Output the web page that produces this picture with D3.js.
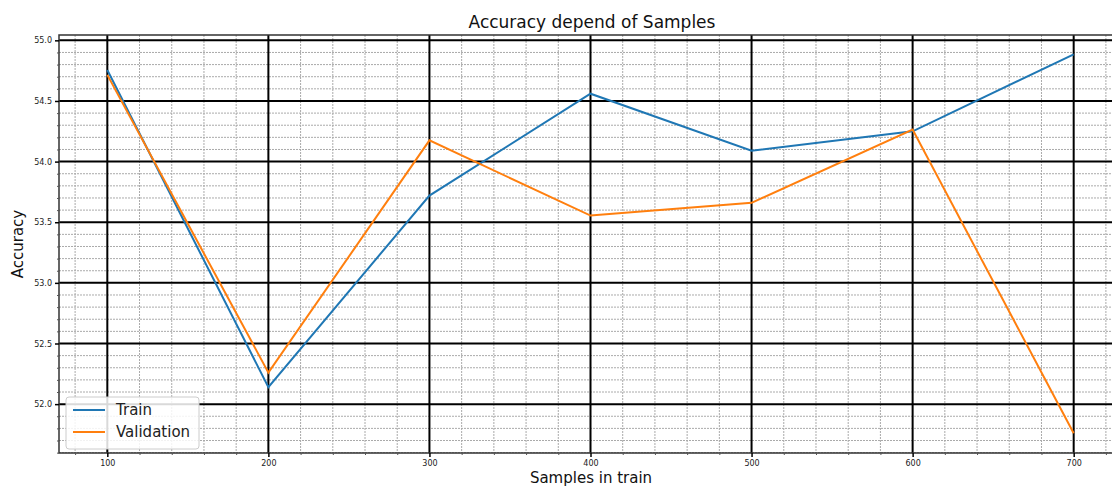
<!DOCTYPE html>
<html><head><meta charset="utf-8">
<script src="https://cdn.jsdelivr.net/npm/d3@7"></script>
<style>body{margin:0;background:#fff;} text{font-family:"DejaVu Sans",sans-serif;}</style>
</head><body><svg id="c" width="1112" height="488"></svg>
<script>
const samples = [100, 200, 300, 400, 500, 600, 700];
const trainAcc = [54.755, 52.14, 53.72, 54.56, 54.09, 54.25, 54.885];
const valAcc = [54.715, 52.26, 54.175, 53.555, 53.66, 54.265, 51.76];
const xTicks = [100, 200, 300, 400, 500, 600, 700];
const yTicks = [52.0, 52.5, 53.0, 53.5, 54.0, 54.5, 55.0];
const seriesNames = ["Train", "Validation"];
const colors = ["#1f77b4", "#ff7f0e"];

const svg = d3.select("#c");
const L = 59, R = 1122, T = 35, B = 453;
const x = d3.scaleLinear().domain([70, 730]).range([L, R]);
const y = d3.scaleLinear().domain([51.597, 55.044]).range([B, T]);

const g = svg.append("g");
// minor grid
const xMinor = d3.range(80, 731, 20).filter(v => v % 100 !== 0);
const yMinor = d3.range(516, 551, 1).map(v => v / 10).filter(v => Math.abs(v*2 - Math.round(v*2)) > 1e-6);
g.selectAll(".mx").data(xMinor).join("line")
  .attr("x1", d => x(d)).attr("x2", d => x(d)).attr("y1", T).attr("y2", B)
  .attr("stroke", "#aaa").attr("stroke-width", 1).attr("stroke-dasharray", "2,1");
g.selectAll(".my").data(yMinor).join("line")
  .attr("y1", d => y(d)).attr("y2", d => y(d)).attr("x1", L).attr("x2", R)
  .attr("stroke", "#aaa").attr("stroke-width", 1).attr("stroke-dasharray", "2,1");
// major grid
g.selectAll(".Mx").data(xTicks).join("line")
  .attr("x1", d => x(d)).attr("x2", d => x(d)).attr("y1", T).attr("y2", B)
  .attr("stroke", "#000").attr("stroke-width", 2);
g.selectAll(".My").data(yTicks).join("line")
  .attr("y1", d => y(d)).attr("y2", d => y(d)).attr("x1", L).attr("x2", R)
  .attr("stroke", "#000").attr("stroke-width", 2);

// frame
g.append("rect").attr("x", L).attr("y", T).attr("width", R - L).attr("height", B - T)
  .attr("fill", "none").attr("stroke", "#333").attr("stroke-width", 1.5);

// axes
const xAxis = d3.axisBottom(x).tickValues(xTicks).tickFormat(d3.format("d")).tickSize(4).tickPadding(3);
const xa = svg.append("g").attr("transform", `translate(0,${B})`).call(xAxis);
xa.select(".domain").remove();
xa.selectAll("text").attr("font-size", 8).attr("fill", "#222");
xa.selectAll("line").attr("stroke", "#000").attr("stroke-width", 1.5);
svg.append("g").attr("transform", `translate(0,${B})`)
  .call(d3.axisBottom(x).tickValues(xMinor).tickFormat("").tickSize(2))
  .call(s => { s.select(".domain").remove(); s.selectAll("line").attr("stroke", "#555"); });

const yAxis = d3.axisLeft(y).tickValues(yTicks).tickFormat(d3.format(".1f")).tickSize(4).tickPadding(3);
const ya = svg.append("g").attr("transform", `translate(${L},0)`).call(yAxis);
ya.select(".domain").remove();
ya.selectAll("text").attr("font-size", 8).attr("fill", "#222");
ya.selectAll("line").attr("stroke", "#000").attr("stroke-width", 1.5);
svg.append("g").attr("transform", `translate(${L},0)`)
  .call(d3.axisLeft(y).tickValues(yMinor).tickFormat("").tickSize(2))
  .call(s => { s.select(".domain").remove(); s.selectAll("line").attr("stroke", "#555"); });

// lines
const line = d3.line().x((d, i) => x(samples[i])).y(d => y(d));
[trainAcc, valAcc].forEach((s, k) => {
  svg.append("path").datum(s).attr("d", line).attr("fill", "none")
    .attr("stroke", colors[k]).attr("stroke-width", 2);
});

// titles
svg.append("text").attr("x", 592).attr("y", 28).attr("text-anchor", "middle")
  .attr("font-size", 17).attr("fill", "#111").text("Accuracy depend of Samples");
svg.append("text").attr("x", 591).attr("y", 483).attr("text-anchor", "middle")
  .attr("font-size", 15).attr("fill", "#111").text("Samples in train");
svg.append("text").attr("transform", "translate(23,244) rotate(-90)").attr("text-anchor", "middle")
  .attr("font-size", 15).attr("fill", "#111").text("Accuracy");

// legend
const lg = svg.append("g");
lg.append("rect").attr("x", 66).attr("y", 397).attr("width", 133).attr("height", 52).attr("rx", 3)
  .attr("fill", "#fff").attr("fill-opacity", 0.85).attr("stroke", "#ccc");
seriesNames.forEach((n, i) => {
  const yy = 410 + i * 22;
  lg.append("line").attr("x1", 73).attr("x2", 105).attr("y1", yy).attr("y2", yy)
    .attr("stroke", colors[i]).attr("stroke-width", 2);
  lg.append("text").attr("x", 116).attr("y", yy + 5).attr("font-size", 15).attr("fill", "#222").text(n);
});
</script></body></html>
